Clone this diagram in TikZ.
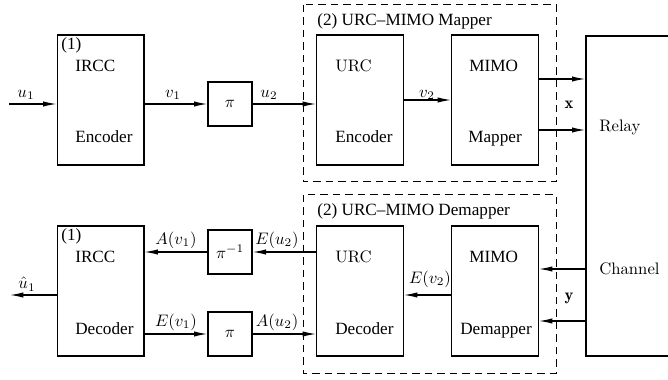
\documentclass[tikz,border=0pt]{standalone}
\usepackage{fontspec}
\newfontfamily\tms[Ligatures=TeX]{Liberation Serif}
\usetikzlibrary{arrows.meta}
\begin{document}
\begin{tikzpicture}[x=0.6pt,y=-0.6pt,
 box/.style={draw,line width=0.8pt,inner sep=0pt,minimum width=52pt,minimum height=78pt},
 pibox/.style={draw,line width=0.8pt,inner sep=0pt,minimum width=26.4pt,minimum height=26.4pt},
 arr/.style={line width=0.7pt,-{Latex[length=8pt,width=3.2pt]}},
 grp/.style={draw,line width=0.6pt,dash pattern=on 4.5pt off 3pt},
 tl/.style={font=\tms\fontsize{10.3}{12}\selectfont,anchor=base west,inner sep=0pt},
 cmtext/.style={anchor=base west,inner sep=0pt},
 lab/.style={inner sep=0pt}]
\useasboundingbox (0,0) rectangle (668,380);
\clip (0,0) rectangle (668,380);

% group boxes
\draw[grp] (303,5) rectangle (556,182);
\draw[grp] (303,195) rectangle (556,373);
\node[tl] (t2a) at (317,26) {(2) URC\textendash MIMO Mapper};
\node[tl] (t2b) at (317,216) {(2) URC\textendash MIMO Demapper};

% upper row
\node[box] (enc) at (100.5,100) {};
\node[pibox] (pi1) at (230,104) {$\pi$};
\node[box] (urce) at (360,100) {};
\node[box] (map) at (495,100) {};

% lower row
\node[box] (dec) at (100.5,291) {};
\node[pibox] (pinv) at (230,252) {$\pi^{-1}$};
\node[pibox] (pi2) at (230,334) {$\pi$};
\node[box] (urcd) at (360,291) {};
\node[box] (demap) at (495,291) {};

% relay (its right side lies outside the picture)
\node[draw,line width=0.8pt,inner sep=0pt,minimum width=120pt,minimum height=192pt] (relay) at (686,196) {};
\node[cmtext] (relayt) at (599,132) {Relay};
\node[cmtext] (chant) at (599,274) {Channel};

% box texts
\node[tl] (n1a) at (61,50) {(1)};
\node[tl] (irc1) at (75,72) {IRCC};
\node[tl] (enct) at (75,143) {Encoder};
\node[tl] (n1b) at (61,241) {(1)};
\node[tl] (irc2) at (75,263) {IRCC};
\node[tl] (dect) at (75,334) {Decoder};

\node[cmtext] (urc1) at (335,72) {URC};
\node[tl] (urcet) at (335,143) {Encoder};
\node[cmtext] (urc2) at (335,263) {URC};
\node[tl] (urcdt) at (335,334) {Decoder};

\node[tl] (mimo1) at (469,72) {MIMO};
\node[tl] (mapt) at (468,143) {Mapper};
\node[tl] (mimo2) at (469,263) {MIMO};
\node[tl] (demapt) at (460,334) {Demapper};

% coordinates
\coordinate (in) at (9,104);
\coordinate (out) at (10,295);
\coordinate (ya) at (0,79);
\coordinate (yb) at (0,130);
\coordinate (yc) at (0,269);
\coordinate (yd) at (0,321);
\coordinate (ye) at (0,252);
\coordinate (yf) at (0,334);

% upper arrows
\draw[arr] (in) -- (enc.west |- in);
\draw[arr] (enc.east |- pi1) -- (pi1.west);
\draw[arr] (pi1.east) -- (urce.west |- pi1);
\draw[arr] (urce.east) -- (map.west);
\draw[arr] (map.east |- ya) -- (relay.west |- ya);
\draw[arr] (map.east |- yb) -- (relay.west |- yb);

% lower arrows
\draw[arr] (relay.west |- yc) -- (demap.east |- yc);
\draw[arr] (relay.west |- yd) -- (demap.east |- yd);
\draw[arr] (demap.west |- out) -- (urcd.east |- out);
\draw[arr] (urcd.west |- ye) -- (pinv.east);
\draw[arr] (pinv.west) -- (dec.east |- ye);
\draw[arr] (dec.east |- yf) -- (pi2.west);
\draw[arr] (pi2.east) -- (urcd.west |- yf);
\draw[arr] (dec.west |- out) -- (out);

% labels
\node[lab] (lu1) at (26,95) {$u_1$};
\node[lab] (lv1) at (173,95) {$v_1$};
\node[lab] (lu2) at (269,95) {$u_2$};
\node[lab] (lv2) at (427,95) {$v_2$};
\node[lab] (lx) at (569,105) {$\mathbf{x}$};
\node[lab] (ly) at (569,298) {$\mathbf{y}$};
\node[lab] (lav1) at (176,240) {$A(v_1)$};
\node[lab] (leu2) at (277,240) {$E(u_2)$};
\node[lab] (lev1) at (176,322) {$E(v_1)$};
\node[lab] (lau2) at (277,322) {$A(u_2)$};
\node[lab] (lev2) at (430,279) {$E(v_2)$};
\node[lab] (lhu1) at (27,284) {$\hat{u}_1$};
\end{tikzpicture}
\end{document}
